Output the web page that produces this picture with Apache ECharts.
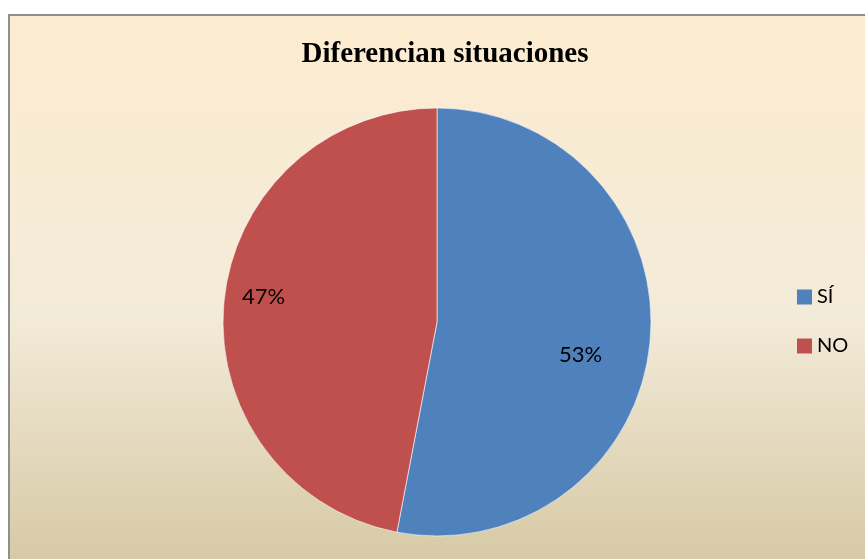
<!DOCTYPE html>
<html>
<head>
<meta charset="utf-8">
<script src="https://cdn.jsdelivr.net/npm/echarts@6/dist/echarts.min.js"></script>
<style>
html,body{margin:0;padding:0;background:#ffffff;overflow:hidden;}
#frame{position:absolute;left:8px;top:14px;border-left:2px solid #8f8f8f;border-top:2px solid #8f8f8f;}
#chart{width:857px;height:545px;}
</style>
</head>
<body>
<div id="frame"><div id="chart"></div></div>
<script>
const titleText = 'Diferencian situaciones';
const categories = ['SÍ', 'NO'];
const values = [53, 47];
const colors = ['#4f81bd', '#c0504d'];
const labelShift = [[34, 23], [-64, -15]];

const chart = echarts.init(document.getElementById('chart'));
chart.setOption({
  backgroundColor: {
    type: 'linear', x: 0, y: 0, x2: 0, y2: 1,
    colorStops: [
      {offset: 0, color: '#fdecd0'},
      {offset: 0.55, color: '#f3ebd9'},
      {offset: 1, color: '#d6c9a5'}
    ]
  },
  title: {
    text: titleText,
    left: 430, top: 19, textAlign: 'center',
    textStyle: {fontFamily: 'Liberation Serif', fontWeight: 'bold', fontSize: 29, color: '#000'}
  },
  legend: {
    orient: 'vertical', left: 782, top: 266,
    itemWidth: 15, itemHeight: 15, itemGap: 29, icon: 'rect',
    itemStyle: {borderWidth: 0},
    textStyle: {fontFamily: 'Lato', fontSize: 20, color: '#000'},
    data: categories
  },
  series: [{
    type: 'pie',
    center: [427, 306], radius: 214,
    startAngle: 90, clockwise: true,
    animation: false,
    itemStyle: {borderColor: '#ffffff', borderWidth: 0.6},
    label: {
      position: 'inside', formatter: '{d}%',
      fontFamily: 'Lato', fontSize: 22, color: '#000'
    },
    labelLayout: function (p) {
      return {dx: labelShift[p.dataIndex][0], dy: labelShift[p.dataIndex][1]};
    },
    data: categories.map((c, i) => ({name: c, value: values[i], itemStyle: {color: colors[i]}}))
  }]
});
</script>
</body>
</html>
